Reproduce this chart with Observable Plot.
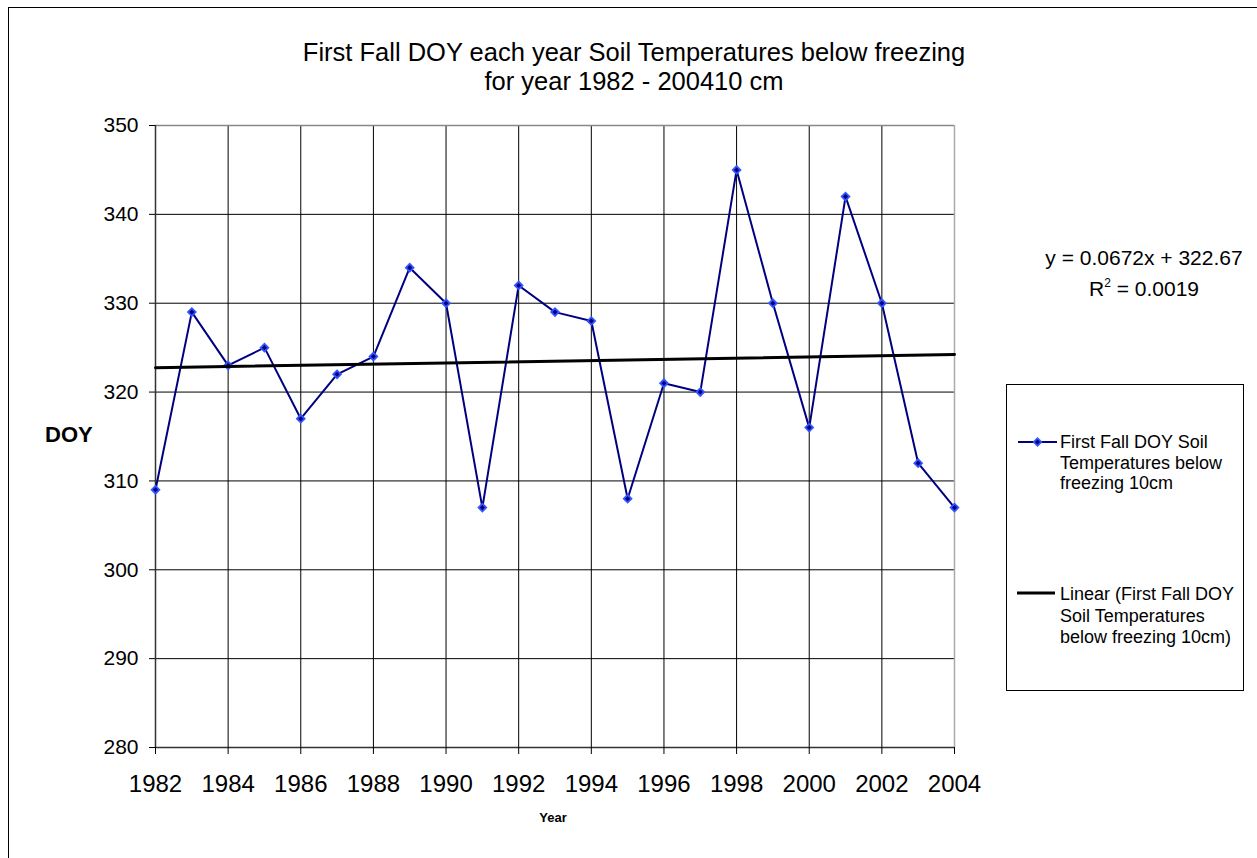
<!DOCTYPE html>
<html><head><meta charset="utf-8">
<script src="https://cdn.jsdelivr.net/npm/d3@7"></script>
<script src="https://cdn.jsdelivr.net/npm/@observablehq/plot@0.6"></script>
<style>
html,body{margin:0;padding:0;background:#fff;overflow:hidden;}
#wrap{position:relative;width:1257px;height:858px;font-family:"Liberation Sans",Arial,sans-serif;color:#000;overflow:hidden;}
#border{position:absolute;left:8px;top:7px;width:1400px;height:1000px;border-left:1.5px solid #000;border-top:1.5px solid #000;}
#chart{position:absolute;left:0;top:0;}
.abs{position:absolute;white-space:nowrap;}
#title{left:0;top:38px;width:1268px;text-align:center;font-size:25.5px;line-height:29px;}
#ylab{left:45px;top:422px;font-size:22px;font-weight:bold;}
#xlab{left:0;width:1106px;text-align:center;top:810px;font-size:13px;font-weight:bold;}
.eq{left:1044px;width:200px;text-align:center;font-size:21px;line-height:24px;}
.eq sup{font-size:12px;line-height:0;vertical-align:9px;}
#legend{left:1006px;top:384px;width:238px;height:307px;border:1px solid #000;box-sizing:border-box;}
.ltxt{left:1060px;font-size:18px;line-height:20.5px;}
.lsym{position:absolute;}
</style></head>
<body>
<div id="wrap">
  <div id="border"></div>
  <div id="chart"></div>
  <div class="abs" id="title">First Fall DOY each year Soil Temperatures below freezing<br>for year 1982 - 200410 cm</div>
  <div class="abs" id="ylab">DOY</div>
  <div class="abs" id="xlab">Year</div>
  <div class="abs eq" style="top:246px">y = 0.0672x + 322.67</div>
  <div class="abs eq" style="top:277px">R<sup>2</sup> = 0.0019</div>
  <div class="abs" id="legend"></div>
  <svg class="lsym" style="left:1016px;top:434px" width="44" height="16">
    <line x1="2" y1="8" x2="41" y2="8" stroke="#000080" stroke-width="2"/>
    <path d="M21.5,3 L26.5,8 L21.5,13 L16.5,8Z" fill="#3355ff"/>
    <path d="M21.5,5.5 L24,8 L21.5,10.5 L19,8Z" fill="#000080"/>
  </svg>
  <div class="abs ltxt" style="top:432px">First Fall DOY Soil<br>Temperatures below<br>freezing 10cm</div>
  <svg class="lsym" style="left:1016px;top:585px" width="44" height="16">
    <line x1="1" y1="8" x2="39" y2="8" stroke="#000" stroke-width="3"/>
  </svg>
  <div class="abs ltxt" style="top:584px;line-height:21.5px">Linear (First Fall DOY<br>Soil Temperatures<br>below freezing 10cm)</div>
</div>
<script>
const years = [1982,1983,1984,1985,1986,1987,1988,1989,1990,1991,1992,1993,1994,1995,1996,1997,1998,1999,2000,2001,2002,2003,2004];
const doy = [309,329,323,325,317,322,324,334,330,307,332,329,328,308,321,320,345,330,316,342,330,312,307];
const xTicks = [1982,1984,1986,1988,1990,1992,1994,1996,1998,2000,2002,2004];
const yTicks = [280,290,300,310,320,330,340,350];

const data = years.map((year, i) => ({year, doy: doy[i]}));

const chart = Plot.plot({
  width: 1257,
  height: 858,
  marginLeft: 155,
  marginTop: 125,
  marginRight: 303,
  marginBottom: 111,
  x: {domain: [xTicks[0], xTicks[xTicks.length - 1]]},
  y: {domain: [yTicks[0], yTicks[yTicks.length - 1]]},
  style: {fontFamily: "'Liberation Sans', Arial, sans-serif", color: "#000", background: "transparent", overflow: "visible"},
  marks: [
    Plot.ruleX(xTicks.slice(1, -1), {stroke: "#000", strokeWidth: 1}),
    Plot.ruleY(yTicks.slice(1, -1), {stroke: "#000", strokeWidth: 1}),
    Plot.ruleY([yTicks[yTicks.length - 1]], {stroke: "#888", strokeWidth: 1.5}),
    Plot.ruleX([xTicks[xTicks.length - 1]], {stroke: "#aaa", strokeWidth: 1.5}),
    Plot.ruleX([xTicks[0]], {stroke: "#333", strokeWidth: 1.5}),
    Plot.ruleY([yTicks[0]], {stroke: "#333", strokeWidth: 1.5}),
    Plot.axisX({ticks: xTicks, tickSize: 7, tickPadding: 20, fontSize: 24, tickFormat: d => String(d), label: null, stroke: "#000"}),
    Plot.axisY({ticks: yTicks, tickSize: 6, tickPadding: 11, fontSize: 21, tickFormat: d => String(d), label: null, stroke: "#000"}),
    Plot.line(data, {x: "year", y: "doy", stroke: "#000080", strokeWidth: 2}),
    Plot.dot(data, {x: "year", y: "doy", symbol: "diamond2", r: 4.6, fill: "#3355ff", stroke: "none"}),
    Plot.dot(data, {x: "year", y: "doy", symbol: "diamond2", r: 2.3, fill: "#000080", stroke: "none"}),
    Plot.linearRegressionY(data, {x: "year", y: "doy", ci: 0, stroke: "#000", strokeWidth: 3})
  ]
});
document.getElementById("chart").appendChild(chart);
</script>
</body></html>
